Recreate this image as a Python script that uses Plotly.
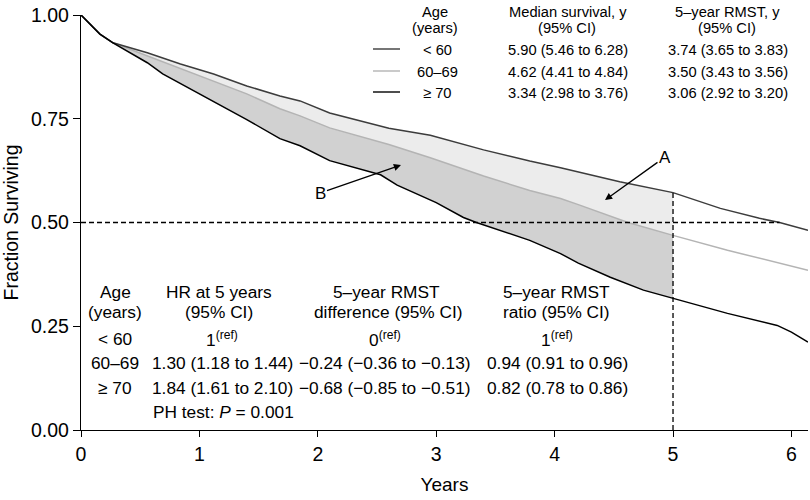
import numpy as np
import plotly.graph_objects as go

# ---------------- data ----------------
T_LT60 = [0, 0.08, 0.16, 0.27, 0.56, 0.84, 1.12, 1.40, 1.68, 1.85, 2.10, 2.60, 2.95,
          3.40, 3.79, 4.05, 4.55, 5.00, 5.40, 5.73, 5.90, 6.14]
S_LT60 = [1.0, 0.978, 0.954, 0.933, 0.909, 0.882, 0.858, 0.829, 0.805, 0.793, 0.764, 0.727, 0.710,
          0.675, 0.648, 0.632, 0.598, 0.572, 0.534, 0.510, 0.500, 0.481]

T_6069 = [0, 0.08, 0.16, 0.27, 0.56, 0.84, 1.12, 1.40, 1.68, 1.85, 2.10, 2.60, 2.95,
          3.40, 3.79, 4.05, 4.20, 4.62, 5.00, 5.46, 6.14]
S_6069 = [1.0, 0.978, 0.954, 0.933, 0.901, 0.870, 0.841, 0.810, 0.774, 0.757, 0.728, 0.688, 0.656,
          0.612, 0.577, 0.558, 0.543, 0.500, 0.469, 0.433, 0.385]

T_GE70 = [0, 0.08, 0.16, 0.27, 0.41, 0.56, 0.69, 0.84, 1.12, 1.40, 1.68, 1.85, 2.10, 2.53, 2.67,
          3.00, 3.23, 3.34, 3.79, 4.05, 4.20, 4.47, 4.75, 5.00, 5.46, 5.88, 6.00, 6.14]
S_GE70 = [1.0, 0.978, 0.954, 0.933, 0.909, 0.885, 0.858, 0.835, 0.790, 0.748, 0.702, 0.685, 0.649, 0.615, 0.590,
          0.548, 0.512, 0.500, 0.457, 0.425, 0.402, 0.368, 0.337, 0.317, 0.281, 0.252, 0.236, 0.212]

AGE_GROUPS = ["&lt; 60", "60–69", "≥ 70"]
MEDIAN_SURV = [5.90, 4.62, 3.34]
MEDIAN_TXT = ["5.90 (5.46 to 6.28)", "4.62 (4.41 to 4.84)", "3.34 (2.98 to 3.76)"]
RMST_TXT = ["3.74 (3.65 to 3.83)", "3.50 (3.43 to 3.56)", "3.06 (2.92 to 3.20)"]
HR_TXT = ["1<sup>(ref)</sup>", "1.30 (1.18 to 1.44)", "1.84 (1.61 to 2.10)"]
RMST_DIFF_TXT = ["0<sup>(ref)</sup>", "−0.24 (−0.36 to −0.13)", "−0.68 (−0.85 to −0.51)"]
RMST_RATIO_TXT = ["1<sup>(ref)</sup>", "0.94 (0.91 to 0.96)", "0.82 (0.78 to 0.86)"]
PH_TEST = "PH test: <i>P</i> = 0.001"
HORIZON = 5.0
X_TICKS = [0, 1, 2, 3, 4, 5, 6]
Y_TICKS = [0, 0.25, 0.5, 0.75, 1.0]

# ---------------- styles ----------------
FONT = "Liberation Sans, Arial, Helvetica, sans-serif"
COL_LT60 = "#3c3c3c"
COL_6069 = "#b4b4b4"
COL_GE70 = "#000000"
FILL_A = "#ececec"
FILL_B = "#d1d1d1"

W, H = 810, 500
ML, MR, MT, MB = 81, 2, 15, 70
PW, PH = W - ML - MR, H - MT - MB
XMAX = 6.14


def px_x(px):
    return (px - ML) / PW


def px_y(py):
    return (H - MB - py) / PH


def dx(px):
    return (px - ML) / PW * XMAX


def dy(py):
    return (H - MB - py) / PH


def upto(t, s, h):
    t = np.asarray(t, float)
    s = np.asarray(s, float)
    m = t < h
    return list(t[m]) + [h], list(s[m]) + [float(np.interp(h, t, s))]


fig = go.Figure()

tA, sA = upto(T_LT60, S_LT60, HORIZON)
tB, sB = upto(T_6069, S_6069, HORIZON)
tC, sC = upto(T_GE70, S_GE70, HORIZON)

fig.add_trace(go.Scatter(x=tA + tB[::-1], y=sA + sB[::-1], fill="toself", fillcolor=FILL_A,
                         line=dict(width=0), mode="lines", hoverinfo="skip", showlegend=False))
fig.add_trace(go.Scatter(x=tB + tC[::-1], y=sB + sC[::-1], fill="toself", fillcolor=FILL_B,
                         line=dict(width=0), mode="lines", hoverinfo="skip", showlegend=False))

fig.add_trace(go.Scatter(x=T_6069, y=S_6069, mode="lines", line=dict(color=COL_6069, width=1.5),
                         showlegend=False))
fig.add_trace(go.Scatter(x=T_LT60, y=S_LT60, mode="lines", line=dict(color=COL_LT60, width=1.5),
                         showlegend=False))
fig.add_trace(go.Scatter(x=T_GE70, y=S_GE70, mode="lines", line=dict(color=COL_GE70, width=1.5),
                         showlegend=False))

# reference lines
s5 = float(np.interp(HORIZON, T_LT60, S_LT60))
fig.add_shape(type="line", x0=HORIZON, x1=HORIZON, y0=0, y1=s5, xref="x", yref="y",
              line=dict(color="black", width=1.3, dash="5px,3px"), layer="above")
fig.add_shape(type="line", x0=0, x1=MEDIAN_SURV[0], y0=0.5, y1=0.5, xref="x", yref="y",
              line=dict(color="black", width=1.3, dash="5px,3px"), layer="above")


def ann(text, px, py, size, xanchor="center"):
    fig.add_annotation(text=text, x=px_x(px), y=px_y(py), xref="paper", yref="paper",
                       showarrow=False, xanchor=xanchor, yanchor="middle",
                       font=dict(size=size, color="black", family=FONT))


# top table
TS = 14.7
ann("Age", 435, 12, TS)
ann("(years)", 435, 28, TS)
ann("Median survival, y", 568, 12, TS)
ann("(95% CI)", 567, 28, TS)
ann("5–year RMST, y", 727, 12, TS)
ann("(95% CI)", 727, 28, TS)
rows_top = [50, 72, 93]
leg_cols = [COL_LT60, COL_6069, COL_GE70]
for i, py in enumerate(rows_top):
    ann(AGE_GROUPS[i], 437, py, TS)
    ann(MEDIAN_TXT[i], 568, py, TS)
    ann(RMST_TXT[i], 728, py, TS)
    fig.add_shape(type="line", xref="paper", yref="paper", x0=px_x(373), x1=px_x(400),
                  y0=px_y(py - 1), y1=px_y(py - 1), line=dict(color=leg_cols[i], width=1.4))

# bottom table
BS = 17.3
ann("Age", 115, 292, BS)
ann("(years)", 115, 312, BS)
ann("HR at 5 years", 219, 292, BS)
ann("(95% CI)", 219, 312, BS)
ann("5–year RMST", 386, 292, BS)
ann("difference (95% CI)", 388, 312, BS)
ann("5–year RMST", 556, 292, BS)
ann("ratio (95% CI)", 556, 312, BS)
rows_bot = [339, 363, 388]
for i, py in enumerate(rows_bot):
    ann(AGE_GROUPS[i], 115, py, BS)
    ann(HR_TXT[i], 222, py, BS)
    ann(RMST_DIFF_TXT[i], 385, py, BS)
    ann(RMST_RATIO_TXT[i], 557, py, BS)
ann(PH_TEST, 151, 412, BS, xanchor="left")

# arrows A and B
for lab, tx, ty, hx, hy in [("A", 665, 157, 605, 200), ("B", 320, 193, 401, 165)]:
    fig.add_annotation(text=lab, x=dx(hx), y=dy(hy), ax=dx(tx), ay=dy(ty),
                       xref="x", yref="y", axref="x", ayref="y", showarrow=True,
                       arrowhead=2, arrowsize=1.1, arrowwidth=1.3, arrowcolor="black",
                       font=dict(size=17, color="black", family=FONT))

axis_common = dict(showline=True, linecolor="black", linewidth=1.3, ticks="outside",
                   tickcolor="black", tickwidth=1.3, showgrid=False, zeroline=False,
                   tickfont=dict(size=19.5, color="black", family=FONT))

fig.update_layout(
    width=W, height=H,
    margin=dict(l=ML, r=MR, t=MT, b=MB, pad=0),
    paper_bgcolor="white", plot_bgcolor="white",
    font=dict(family=FONT, color="black"),
    showlegend=False,
    xaxis=dict(range=[0, XMAX], tickvals=X_TICKS, ticklen=6,
               title=dict(text="Years", font=dict(size=19, family=FONT), standoff=14),
               **axis_common),
    yaxis=dict(range=[0, 1], tickvals=Y_TICKS, tickformat=".2f", ticklen=7,
               title=dict(text="Fraction Surviving", font=dict(size=19.5, family=FONT), standoff=8),
               **axis_common),
)

fig.write_html("out.html", config={"displayModeBar": False},
               post_script="document.body.style.margin='0';")
